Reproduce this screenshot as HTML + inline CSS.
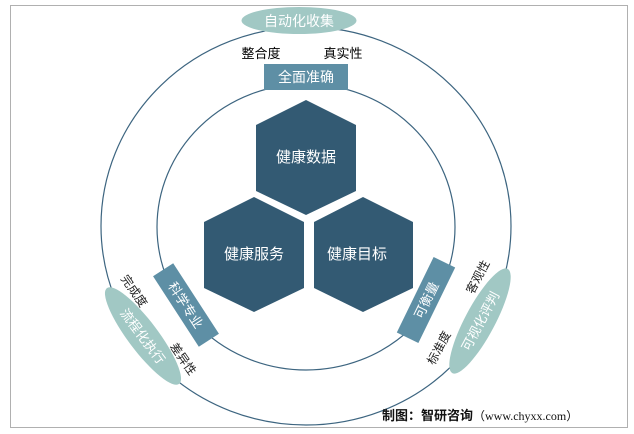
<!DOCTYPE html>
<html><head><meta charset="utf-8"><style>
html,body{margin:0;padding:0;background:#fff;width:634px;height:434px;overflow:hidden}
text{font-family:"Liberation Sans","Noto Sans CJK SC",sans-serif}
</style></head><body>
<svg width="634" height="434" viewBox="0 0 634 434" xmlns="http://www.w3.org/2000/svg">
<rect x="10.5" y="5.5" width="617" height="422" fill="#fff" stroke="#b0b0b0" stroke-width="1"/>
<ellipse cx="306" cy="226" rx="205" ry="199" fill="none" stroke="#3d6580" stroke-width="1.2"/>
<ellipse cx="306" cy="227" rx="149" ry="143" fill="none" stroke="#3d6580" stroke-width="1.2"/>
<g fill="#335a73">
<polygon points="306,100 356,125 356,191 306,215 256,191 256,125"/>
<polygon points="254,197 304,222 304,288 254,312 204,288 204,222"/>
<polygon points="363,197 413,222 413,288 363,312 314,288 314,222"/>
</g>
<g fill="#fff" font-size="15" text-anchor="middle">
<text x="306" y="162">健康数据</text>
<text x="254" y="259">健康服务</text>
<text x="357" y="259">健康目标</text>
</g>
<ellipse cx="299" cy="20.5" rx="57.5" ry="13.5" fill="#a1c8c4"/>
<text x="299" y="26" fill="#fff" font-size="14" text-anchor="middle">自动化收集</text>
<rect x="264" y="64" width="84" height="26" fill="#5e8fa5"/>
<text x="306" y="82" fill="#fff" font-size="14" text-anchor="middle">全面准确</text>
<g font-size="13" fill="#000" text-anchor="middle">
<text x="261" y="58">整合度</text>
<text x="343" y="58">真实性</text>
</g>
<g transform="translate(186,305) rotate(57)">
<rect x="-42" y="-12" width="84" height="24" fill="#5e8fa5"/>
<text x="0" y="5" fill="#fff" font-size="13" text-anchor="middle">科学专业</text>
</g>
<g transform="translate(143,336) rotate(53)">
<ellipse cx="0" cy="0" rx="60" ry="15" fill="#a1c8c4"/>
<text x="0" y="5" fill="#fff" font-size="13" text-anchor="middle">流程化执行</text>
</g>
<g transform="translate(426,300) rotate(-64)">
<rect x="-42" y="-12" width="84" height="24" fill="#5e8fa5"/>
<text x="0" y="5" fill="#fff" font-size="13" text-anchor="middle">可衡量</text>
</g>
<g transform="translate(480,321) rotate(-62)">
<ellipse cx="0" cy="0" rx="59" ry="15" fill="#a1c8c4"/>
<text x="0" y="5" fill="#fff" font-size="13" text-anchor="middle">可视化评判</text>
</g>
<g font-size="12" fill="#222" text-anchor="middle">
<text transform="translate(134,291) rotate(55)" y="4">完成度</text>
<text transform="translate(183,359) rotate(55)" y="4">差异性</text>
<text transform="translate(478,277) rotate(-62)" y="4">客观性</text>
<text transform="translate(439,348) rotate(-62)" y="4">标准度</text>
</g>
<text x="382" y="420" font-size="13" fill="#111"><tspan font-weight="bold">制图：智研咨询</tspan><tspan font-family="Liberation Serif,serif" font-size="12">（www.chyxx.com）</tspan></text>
</svg>
</body></html>
